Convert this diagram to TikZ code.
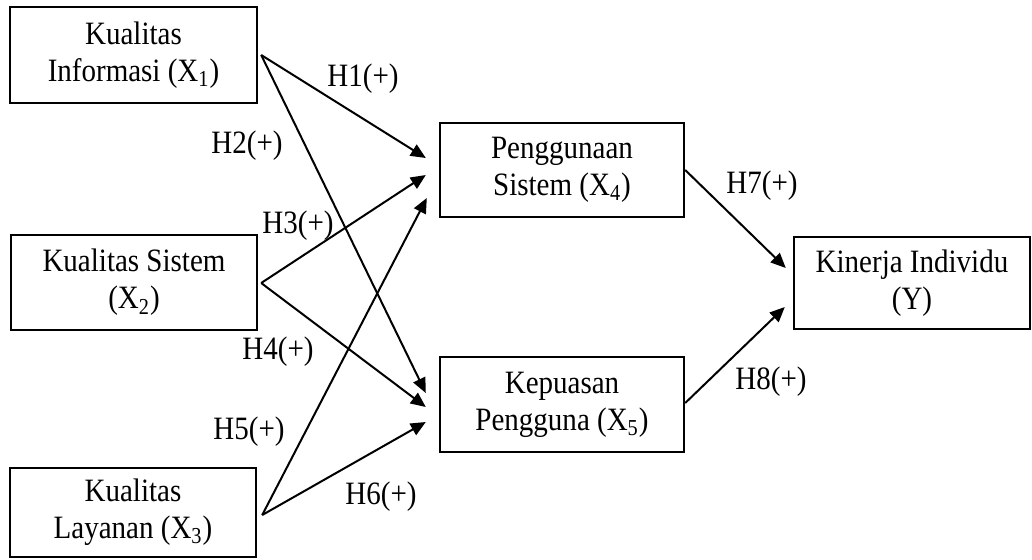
\documentclass[tikz,border=0pt]{standalone}
\usepackage{fontspec}
\setmainfont{Liberation Serif}[FakeStretch=0.89]
\usetikzlibrary{arrows.meta,calc}

\begin{document}
\begin{tikzpicture}[x=0.5pt, y=-0.5pt,
    varbox/.style={draw, line width=1.2pt, inner sep=0pt, align=center,
      font=\fontsize{16.3pt}{18.5pt}\selectfont},
    hyp/.style={-{Triangle[length=7.5pt,width=6.5pt]}, line width=1pt},
    lbl/.style={font=\fontsize{16.3pt}{18.5pt}\selectfont, inner sep=0pt}]
        \useasboundingbox (0,0) rectangle (1032,559);
        % Independent variables
        \node[varbox, minimum width=123.5pt, minimum height=48pt] (x1) at (133.5,55) {Kualitas\\Informasi (X\textsubscript{1})};
        \node[varbox, minimum width=123pt, minimum height=47.5pt] (x2) at (134,282.5) {Kualitas Sistem\\(X\textsubscript{2})};
        \node[varbox, minimum width=123pt, minimum height=44.5pt] (x3) at (133,512.5) {Kualitas\\Layanan (X\textsubscript{3})};
        % Intervening variables
        \node[varbox, minimum width=122pt, minimum height=47pt] (x4) at (562,170) {Penggunaan\\Sistem (X\textsubscript{4})};
        \node[varbox, minimum width=122pt, minimum height=47.5pt] (x5) at (562,404.5) {Kepuasan\\Pengguna (X\textsubscript{5})};
        % Dependent variable
        \node[varbox, minimum width=118pt, minimum height=46pt] (y) at (912,283) {Kinerja Individu\\(Y)};
        % Hypotheses
        \draw[hyp] ($(x1.east)+(3,0)$) -- ($(x4.west)+(-13,-12)$);
        \draw[hyp] ($(x1.east)+(3,0)$) -- ($(x5.west)+(-13,-11.5)$);
        \draw[hyp] ($(x2.east)+(3,0.5)$) -- ($(x4.west)+(-13,5)$);
        \draw[hyp] ($(x2.east)+(3,0.5)$) -- ($(x5.west)+(-13,2.5)$);
        \draw[hyp] ($(x3.east)+(5,2.5)$) -- ($(x4.west)+(-12,28)$);
        \draw[hyp] ($(x3.east)+(5,2.5)$) -- ($(x5.west)+(-13,17.5)$);
        \draw[hyp] (x4.east) -- ($(y.west)+(-7,-15)$);
        \draw[hyp] ($(x5.east)+(0,-1.5)$) -- ($(y.west)+(-8,24)$);
        % Labels
        \node[lbl] (h1) at (363,79) {H1(+)};
        \node[lbl] (h2) at (247,146) {H2(+)};
        \node[lbl] (h3) at (298,226) {H3(+)};
        \node[lbl] (h4) at (278,352) {H4(+)};
        \node[lbl] (h5) at (249,432) {H5(+)};
        \node[lbl] (h6) at (381,497) {H6(+)};
        \node[lbl] (h7) at (762,186) {H7(+)};
        \node[lbl] (h8) at (771,382) {H8(+)};
      \end{tikzpicture}
\end{document}
